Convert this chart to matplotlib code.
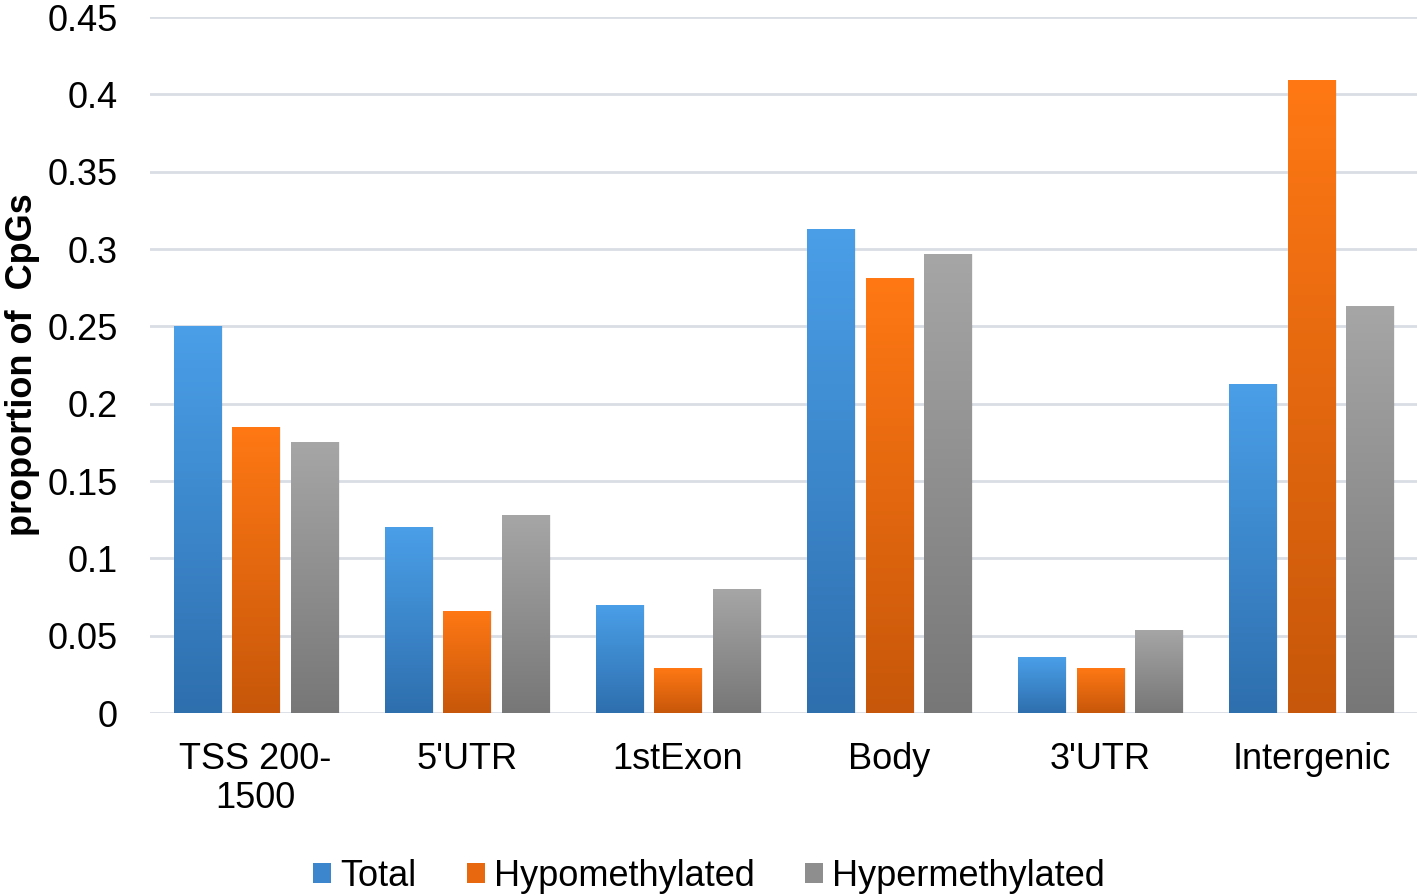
import matplotlib
matplotlib.use("Agg")
import matplotlib.pyplot as plt
import numpy as np
from matplotlib.colors import LinearSegmentedColormap
from matplotlib.patches import Patch

plt.rcParams['font.family'] = ['Liberation Sans', 'DejaVu Sans']

categories = ["TSS 200-\n1500", "5'UTR", "1stExon", "Body", "3'UTR", "Intergenic"]
series_names = ["Total", "Hypomethylated", "Hypermethylated"]
total = [0.250, 0.120, 0.070, 0.313, 0.036, 0.213]
hypo = [0.185, 0.066, 0.029, 0.281, 0.029, 0.409]
hyper = [0.175, 0.128, 0.080, 0.297, 0.054, 0.263]
yticks = [0, 0.05, 0.1, 0.15, 0.2, 0.25, 0.3, 0.35, 0.4, 0.45]
ytick_labels = ["0", "0.05", "0.1", "0.15", "0.2", "0.25", "0.3", "0.35", "0.4", "0.45"]

# (bottom colour, top colour) for the vertical gradient of each series
grad_colors = [("#2e6fae", "#4a9fe8"), ("#c7570a", "#ff7814"), ("#777777", "#a6a6a6")]
mid_colors = ["#3b86cc", "#e8680f", "#8e8e8e"]

fig = plt.figure(figsize=(14.18, 8.96), dpi=100)
ax = fig.add_axes([0.1058, 0.2042, 0.8935, 0.7768])

x = np.arange(len(categories))
width = 0.223
step = 0.277
all_series = [total, hypo, hyper]
grad = np.linspace(0, 1, 256).reshape(-1, 1)

ax.set_xlim(-0.5, len(categories) - 0.5)
ax.set_ylim(0, 0.45)

for i, vals in enumerate(all_series):
    # soft shadow
    ax.bar(x + (i - 1) * step + 0.006, vals, width=width + 0.006, color='#000000',
           alpha=0.06, zorder=1.5, edgecolor='none')
    bars = ax.bar(x + (i - 1) * step, vals, width=width, color=mid_colors[i],
                  zorder=2, edgecolor='none')
    cmap = LinearSegmentedColormap.from_list("g%d" % i, list(grad_colors[i]))
    for b in bars:
        x0, y0 = b.get_x(), b.get_y()
        w, h = b.get_width(), b.get_height()
        im = ax.imshow(grad, extent=[x0, x0 + w, y0, y0 + h], origin='lower',
                       cmap=cmap, aspect='auto', zorder=3, interpolation='bilinear')
        im.set_clip_path(b)

ax.set_xlim(-0.5, len(categories) - 0.5)
ax.set_ylim(0, 0.45)

ax.set_yticks(yticks)
ax.set_yticklabels(ytick_labels)
ax.set_xticks(x)
ax.set_xticklabels(categories, linespacing=1.15)
ax.tick_params(axis='y', length=0, pad=23, labelsize=26, colors='black')
ax.tick_params(axis='x', length=0, pad=21, labelsize=26, colors='black')

ax.grid(axis='y', color='#d9dee5', linewidth=2, zorder=0)
ax.set_axisbelow(True)
for s in ax.spines.values():
    s.set_visible(False)

ax.set_ylabel("proportion of  CpGs", fontsize=26, fontweight='bold')
ax.yaxis.set_label_coords(-0.087, 0.5)

handles = [Patch(facecolor=mid_colors[i], edgecolor='none') for i in range(3)]
fig.legend(handles, series_names, loc='center', bbox_to_anchor=(0.5, 0.022),
           ncol=3, frameon=False, fontsize=26, handlelength=0.5, handleheight=0.5,
           handletextpad=0.25, columnspacing=1.4)

fig.savefig("out.png", dpi=100)
